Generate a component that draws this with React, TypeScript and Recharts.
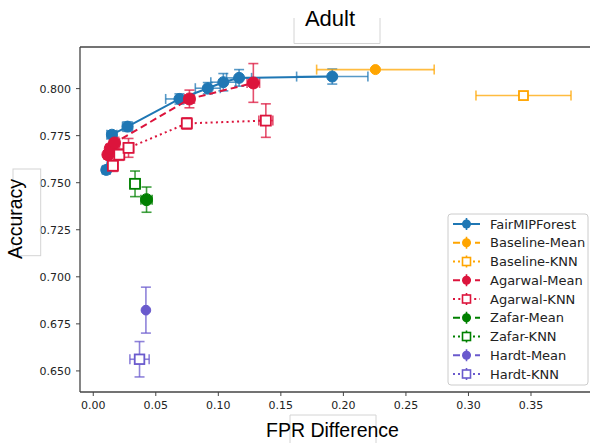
import React from 'react';
import { ScatterChart, Scatter, XAxis, YAxis, ErrorBar, ReferenceLine } from 'recharts';

const X_MIN = -0.0106;
const X_MAX = 0.4015;
const Y_MIN = 0.6388;
const Y_MAX = 0.8221;
const xTicks = [0, 0.05, 0.1, 0.15, 0.2, 0.25, 0.3, 0.35];
const yTicks = [0.65, 0.675, 0.7, 0.725, 0.75, 0.775, 0.8];

const seriesNames = [
  'FairMIPForest', 'Baseline-Mean', 'Baseline-KNN', 'Agarwal-Mean', 'Agarwal-KNN',
  'Zafar-Mean', 'Zafar-KNN', 'Hardt-Mean', 'Hardt-KNN',
];

// FairMIPForest
const fmfX = [0.0104, 0.0149, 0.0274, 0.0689, 0.0916, 0.104, 0.1166, 0.1911];
const fmfY = [0.7568, 0.7755, 0.7798, 0.7945, 0.8002, 0.8034, 0.8057, 0.8064];
const fmfXErr = [0.003, 0.004, 0.004, 0.011, 0.01, 0.01, 0.01, 0.0285];
const fmfYErr = [0.0015, 0.002, 0.0025, 0.0027, 0.003, 0.0046, 0.0044, 0.004];
// Baseline
const bmX = [0.2256]; const bmY = [0.8101]; const bmXErr = [0.047]; const bmYErr = [0.0008];
const bkX = [0.344]; const bkY = [0.7963]; const bkXErr = [0.038]; const bkYErr = [0.0008];
// Agarwal
const amX = [0.0117, 0.0136, 0.017, 0.0769, 0.128];
const amY = [0.7649, 0.7682, 0.7711, 0.7945, 0.803];
const amXErr = [0.003, 0.003, 0.004, 0.004, 0.005];
const amYErr = [0.002, 0.002, 0.003, 0.0047, 0.0103];
const akX = [0.0157, 0.0208, 0.0282, 0.0748, 0.138];
const akY = [0.759, 0.7649, 0.7685, 0.7815, 0.783];
const akXErr = [0.004, 0.004, 0.004, 0.004, 0.0056];
const akYErr = [0.003, 0.003, 0.005, 0.003, 0.0089];
// Zafar
const zmX = [0.0426]; const zmY = [0.741]; const zmXErr = [0.0045]; const zmYErr = [0.0067];
const zkX = [0.0334]; const zkY = [0.7494]; const zkXErr = [0.004]; const zkYErr = [0.0068];
// Hardt
const hmX = [0.0421]; const hmY = [0.6823]; const hmXErr = [0.001]; const hmYErr = [0.0122];
const hkX = [0.037]; const hkY = [0.6562]; const hkXErr = [0.0077]; const hkYErr = [0.0094];

const BLUE = '#1f77b4';
const ORANGE = '#ffa500';
const RED = '#dc143c';
const GREEN = '#008000';
const PURPLE = '#6a5acd';

const build = (xs: number[], ys: number[], exs: number[], eys: number[]) =>
  xs.map((x, i) => ({ x, y: ys[i], ex: exs[i], ey: eys[i] }));

type Style = {
  name: string; color: string; filled: boolean; size: number;
  dash?: string; line: boolean; data: any[];
};

const series: Style[] = [
  { name: seriesNames[0], color: BLUE, filled: true, size: 5.5, line: true, data: build(fmfX, fmfY, fmfXErr, fmfYErr) },
  { name: seriesNames[1], color: ORANGE, filled: true, size: 5, dash: '7 4', line: false, data: build(bmX, bmY, bmXErr, bmYErr) },
  { name: seriesNames[2], color: ORANGE, filled: false, size: 4.5, dash: '2 3', line: false, data: build(bkX, bkY, bkXErr, bkYErr) },
  { name: seriesNames[3], color: RED, filled: true, size: 6, dash: '7 4', line: true, data: build(amX, amY, amXErr, amYErr) },
  { name: seriesNames[4], color: RED, filled: false, size: 5, dash: '2 3.3', line: true, data: build(akX, akY, akXErr, akYErr) },
  { name: seriesNames[5], color: GREEN, filled: true, size: 6, dash: '7 4', line: false, data: build(zmX, zmY, zmXErr, zmYErr) },
  { name: seriesNames[6], color: GREEN, filled: false, size: 5, dash: '2 3', line: false, data: build(zkX, zkY, zkXErr, zkYErr) },
  { name: seriesNames[7], color: PURPLE, filled: true, size: 4.8, dash: '7 4', line: false, data: build(hmX, hmY, hmXErr, hmYErr) },
  { name: seriesNames[8], color: PURPLE, filled: false, size: 4.8, dash: '2 3', line: false, data: build(hkX, hkY, hkXErr, hkYErr) },
];

const Marker = ({ cx, cy, s }: { cx: number; cy: number; s: Style }) =>
  s.filled ? (
    <circle cx={cx} cy={cy} r={s.size} fill={s.color} stroke={s.color} strokeWidth={1} />
  ) : (
    <rect x={cx - s.size} y={cy - s.size} width={s.size * 2} height={s.size * 2} fill="#fff" stroke={s.color} strokeWidth={1.8} />
  );

const SANS = 'Liberation Sans, Arial, sans-serif';
const DEJAVU = 'DejaVu Sans, sans-serif';

export default function App() {
  const legendTop = 224;
  const step = 18.75;
  return (
    <div style={{ position: 'absolute', left: 0, top: 0, width: 590, height: 443, overflow: 'hidden', background: '#fff' }}>
      <ScatterChart
        width={600}
        height={443}
        margin={{ top: 47, right: 4.6, left: 20, bottom: 21 }}
      >
        <XAxis
          type="number"
          dataKey="x"
          domain={[X_MIN, X_MAX]}
          ticks={xTicks}
          allowDataOverflow
          height={30}
          tickSize={4}
          tickMargin={5}
          tickFormatter={(v: number) => v.toFixed(2)}
          tick={{ fill: '#222', fontSize: 11, fontFamily: DEJAVU }}
          axisLine={{ stroke: '#444', strokeWidth: 1.3 }}
          tickLine={{ stroke: '#444', strokeWidth: 1 }}
        />
        <YAxis
          type="number"
          dataKey="y"
          domain={[Y_MIN, Y_MAX]}
          ticks={yTicks}
          allowDataOverflow
          width={60}
          tickSize={4}
          tickMargin={5}
          tickFormatter={(v: number) => v.toFixed(3)}
          tick={{ fill: '#222', fontSize: 11, fontFamily: DEJAVU }}
          axisLine={{ stroke: '#444', strokeWidth: 1.3 }}
          tickLine={{ stroke: '#444', strokeWidth: 1 }}
        />
        <ReferenceLine y={Y_MAX} stroke="#444" strokeWidth={1.3} />
        <ReferenceLine x={X_MAX} stroke="#444" strokeWidth={1.3} />
        {series.map((s) => (
          <Scatter
            key={s.name}
            name={s.name}
            data={s.data}
            isAnimationActive={false}
            line={s.line ? { stroke: s.color, strokeWidth: 2, strokeDasharray: s.dash } : false}
            lineType="joint"
            shape={(p: any) => <Marker cx={p.cx} cy={p.cy} s={s} />}
          >
            <ErrorBar dataKey="ex" direction="x" width={5} stroke={s.color} strokeOpacity={0.75} strokeWidth={1.6} isAnimationActive={false} />
            <ErrorBar dataKey="ey" direction="y" width={5} stroke={s.color} strokeOpacity={0.75} strokeWidth={1.6} isAnimationActive={false} />
          </Scatter>
        ))}
      </ScatterChart>
      <svg width={590} height={443} style={{ position: 'absolute', left: 0, top: 0, pointerEvents: 'none' }}>
        <path d="M294,18 V43.5 H380 V18" fill="none" stroke="#d4d4d4" strokeWidth={1} />
        <text x={330} y={26} textAnchor="middle" fontSize={22} fontFamily={SANS} fill="#000">Adult</text>
        <rect x={13} y={169} width={27.7} height={86.7} fill="none" stroke="#d4d4d4" strokeWidth={1} />
        <text x={21.8} y={219} transform="rotate(-90 21.8 219)" textAnchor="middle" fontSize={19.5} fontFamily={SANS} fill="#000">Accuracy</text>
        <path d="M290,443 V415 H376 V443" fill="none" stroke="#d4d4d4" strokeWidth={1} />
        <text x={332.5} y={437.3} textAnchor="middle" fontSize={19.5} fontFamily={SANS} fill="#000">FPR Difference</text>
        <rect x={448} y={214} width={140} height={171} rx={3} fill="#fff" fillOpacity={0.85} stroke="#ccc" strokeWidth={1} />
        {series.map((s, i) => {
          const cy = legendTop + i * step;
          return (
            <g key={s.name}>
              <line x1={453} y1={cy} x2={480} y2={cy} stroke={s.color} strokeWidth={2} strokeDasharray={i === 0 ? undefined : s.dash} />
              <line x1={466.5} y1={cy - 6} x2={466.5} y2={cy + 6} stroke={s.color} strokeWidth={1.6} />
              {s.filled ? (
                <circle cx={466.5} cy={cy} r={4.5} fill={s.color} />
              ) : (
                <rect x={462.5} y={cy - 4} width={8} height={8} fill="#fff" stroke={s.color} strokeWidth={1.6} />
              )}
              <text x={490} y={cy + 4.6} fontSize={13} fontFamily={DEJAVU} fill="#222">{s.name}</text>
            </g>
          );
        })}
      </svg>
    </div>
  );
}
